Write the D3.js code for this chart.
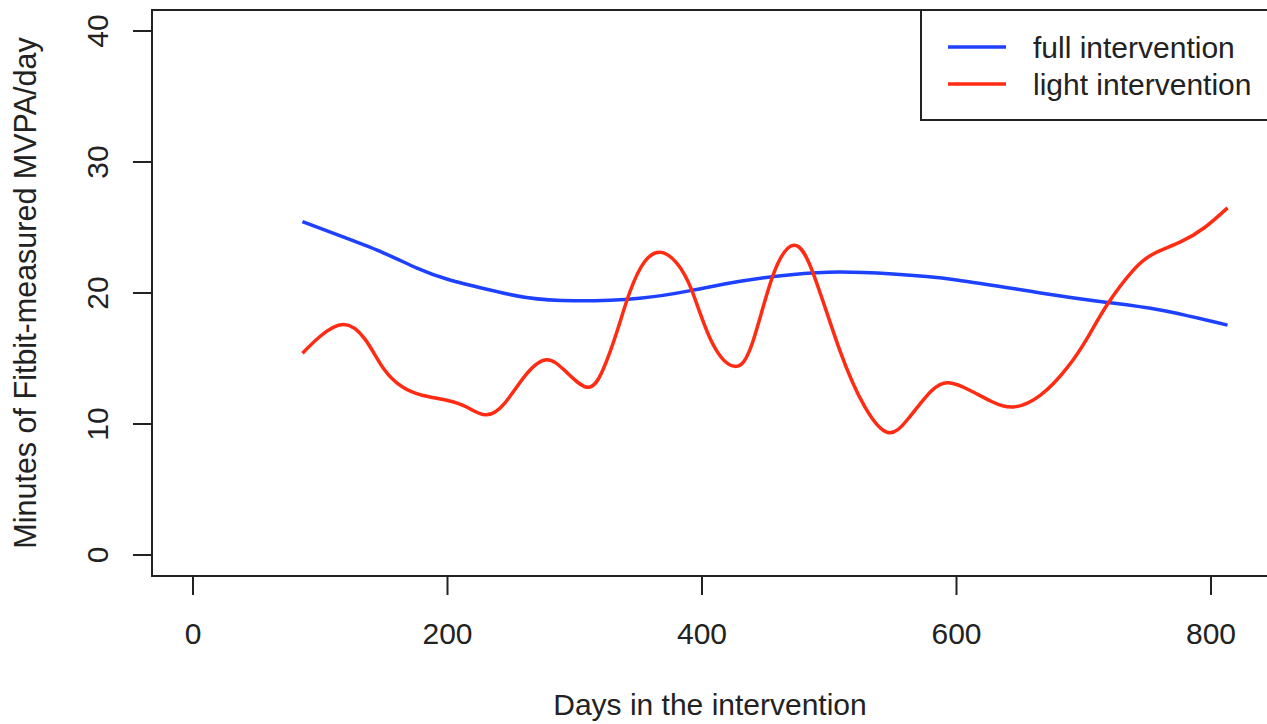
<!DOCTYPE html>
<meta charset="utf-8">
<style>
  body { margin: 0; background: #fff; }
  svg text { font-family: "Liberation Sans", Arial, sans-serif; fill: #222; }
</style>
<svg width="1267" height="724"></svg>
<script src="https://d3js.org/d3.v7.min.js"></script>
<script>

// smoothed curves
var fullDays = [86, 120, 150, 176, 200, 230, 262, 300, 351, 392, 430, 470, 508, 550, 600, 666, 717, 760, 813];
var fullVals = [25.45, 24.2, 23.05, 21.9, 21.05, 20.3, 19.65, 19.4, 19.6, 20.2, 20.9, 21.4, 21.6, 21.45, 21.0, 20.0, 19.3, 18.7, 17.55];

var lightDays = [86, 100, 118, 135, 150, 165, 180, 200, 215, 230, 245, 262, 278, 293, 310, 322, 333, 343, 355, 368, 380, 392, 408, 426, 440, 456, 472, 487, 508, 528, 546, 562, 580, 594, 610, 628, 645, 666, 687, 703, 719, 739, 755, 776, 795, 813];
var lightVals = [15.4, 16.7, 17.6, 16.5, 14.2, 12.8, 12.2, 11.8, 11.3, 10.7, 11.6, 13.8, 14.9, 14.0, 12.8, 14.1, 17.0, 20.0, 22.4, 23.1, 22.3, 20.2, 16.2, 14.4, 16.3, 21.4, 23.65, 21.6, 15.7, 11.3, 9.35, 10.4, 12.5, 13.15, 12.6, 11.7, 11.3, 12.2, 14.3, 16.6, 19.2, 21.75, 23.0, 23.9, 25.0, 26.5];

var xTicks = [0, 200, 400, 600, 800];
var yTicks = [0, 10, 20, 30, 40];

var series = [
  {name: "full intervention", color: "#1d41ff", days: fullDays, vals: fullVals},
  {name: "light intervention", color: "#ff2b12", days: lightDays, vals: lightVals}
];

var svg = d3.select("svg"),
    width = +svg.attr("width"),
    height = +svg.attr("height");

var box = {left: 152, top: 10, bottom: 576};

var x = d3.scaleLinear().domain([0, 800]).range([193, 1211]);
var y = d3.scaleLinear().domain([0, 40]).range([555, 31]);

// plot frame (runs off the right edge like the original)
svg.append("rect")
    .attr("x", box.left).attr("y", box.top)
    .attr("width", width + 10 - box.left).attr("height", box.bottom - box.top)
    .attr("fill", "none").attr("stroke", "#222").attr("stroke-width", 2);

// x axis ticks
svg.selectAll(".xtick").data(xTicks).enter().append("line")
    .attr("x1", function(d) { return x(d); }).attr("x2", function(d) { return x(d); })
    .attr("y1", box.bottom).attr("y2", box.bottom + 19)
    .attr("stroke", "#222").attr("stroke-width", 2);

svg.selectAll(".xlab").data(xTicks).enter().append("text")
    .attr("x", function(d) { return x(d); })
    .attr("y", 644)
    .attr("text-anchor", "middle")
    .style("font-size", "30px")
    .text(function(d) { return d; });

// y axis ticks
svg.selectAll(".ytick").data(yTicks).enter().append("line")
    .attr("x1", box.left - 19).attr("x2", box.left)
    .attr("y1", function(d) { return y(d); }).attr("y2", function(d) { return y(d); })
    .attr("stroke", "#222").attr("stroke-width", 2);

svg.selectAll(".ylab").data(yTicks).enter().append("text")
    .attr("transform", function(d) { return "translate(108," + y(d) + ") rotate(-90)"; })
    .attr("text-anchor", "middle")
    .style("font-size", "30px")
    .text(function(d) { return d; });

// axis titles
svg.append("text")
    .attr("x", 710).attr("y", 715)
    .attr("text-anchor", "middle")
    .style("font-size", "30px")
    .text("Days in the intervention");

svg.append("text")
    .attr("transform", "translate(36,293) rotate(-90)")
    .attr("text-anchor", "middle")
    .style("font-size", "30.5px")
    .text("Minutes of Fitbit-measured MVPA/day");

// curves
var line = d3.line()
    .x(function(d) { return x(d[0]); })
    .y(function(d) { return y(d[1]); })
    .curve(d3.curveNatural);

svg.selectAll(".curve").data(series).enter().append("path")
    .attr("d", function(s) { return line(d3.zip(s.days, s.vals)); })
    .attr("fill", "none")
    .attr("stroke", function(s) { return s.color; })
    .attr("stroke-width", 3.5)
    .attr("stroke-linejoin", "round")
    .attr("stroke-linecap", "butt");

// legend
svg.append("rect")
    .attr("x", 921).attr("y", box.top)
    .attr("width", width + 10 - 921).attr("height", 120 - box.top)
    .attr("fill", "#fff").attr("stroke", "#222").attr("stroke-width", 2);

var leg = svg.selectAll(".leg").data(series).enter().append("g")
    .attr("transform", function(d, i) { return "translate(0," + (47 + i * 37) + ")"; });

leg.append("line")
    .attr("x1", 948).attr("x2", 1006)
    .attr("stroke", function(d) { return d.color; })
    .attr("stroke-width", 3.5);

leg.append("text")
    .attr("x", 1033).attr("y", 11)
    .style("font-size", "30px")
    .text(function(d) { return d.name; });

</script>
